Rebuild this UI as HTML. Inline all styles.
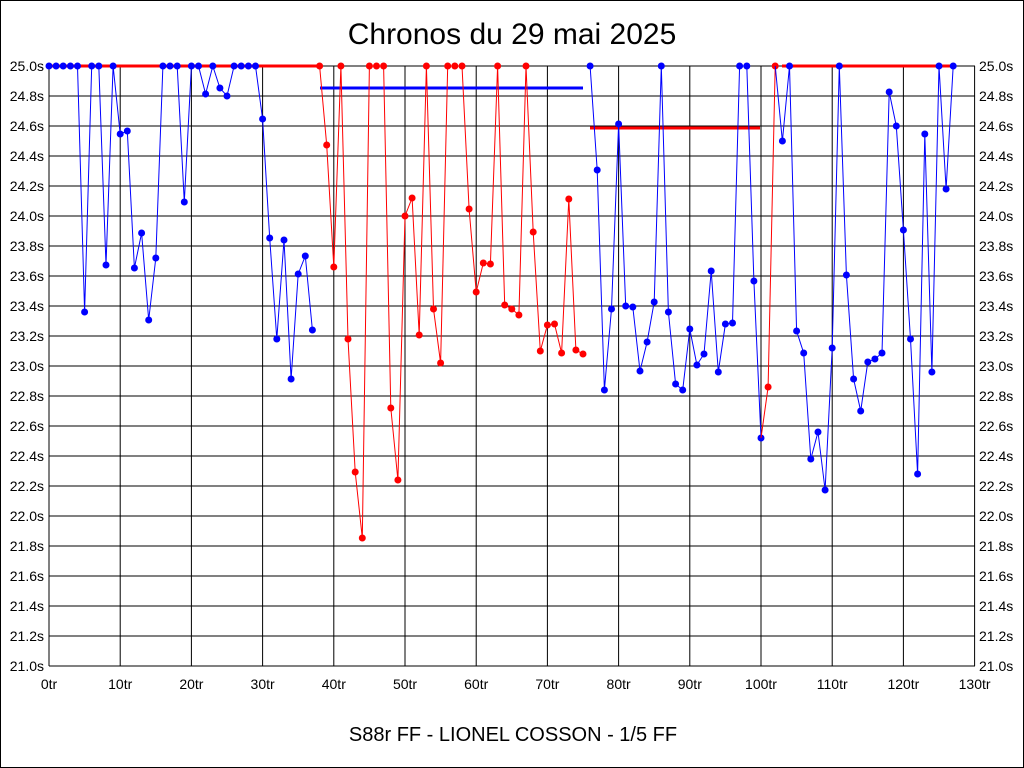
<!DOCTYPE html>
<html><head><meta charset="utf-8"><style>
html,body{margin:0;padding:0;background:#fff}
svg{display:block}
text{font-family:"Liberation Sans",Arial,sans-serif}
</style></head><body>
<svg id="s" width="1024" height="768" xmlns="http://www.w3.org/2000/svg">
<rect x="0.5" y="0.5" width="1023" height="767" fill="#fff" stroke="#000"/>
<text x="512" y="44" font-size="30" text-anchor="middle">Chronos du 29 mai 2025</text>
<text x="513" y="741" font-size="20" text-anchor="middle">S88r FF - LIONEL COSSON - 1/5 FF</text>
<g id="g"></g>
</svg>
<script>
var g=document.getElementById('g'),h='';
var X0=49,XS=7.12,Y0=66;
function X(i){return X0+XS*i;}
for(var k=0;k<=20;k++){var y=Y0+30*k;var v=(25-0.2*k).toFixed(1)+'s';
h+='<line x1="49" y1="'+y+'" x2="975" y2="'+y+'" stroke="#000" stroke-width="1"/>';
h+='<text x="44" y="'+(y+5)+'" font-size="14" text-anchor="end">'+v+'</text>';
h+='<text x="979" y="'+(y+5)+'" font-size="14">'+v+'</text>';}
for(var k=0;k<=13;k++){var x=X(k*10);
h+='<line x1="'+x+'" y1="66" x2="'+x+'" y2="666" stroke="#000" stroke-width="1"/>';
h+='<text x="'+x+'" y="689" font-size="14" text-anchor="middle">'+(k*10)+'tr</text>';}
var T=66;
var b1=[T,T,T,T,T,312,T,T,265,T,134,131,268,233,320,258,T,T,T,202,T,T,94,T,88,96,T,T,T,T,119,238,339,240,379,274,256,330];
var r1=[T,145,267,T,339,472,538,T,T,T,408,480,216,198,335,T,309,363,T,T,T,209,292,263,264,T,305,309,315,T,232,351,325,324,353,199,350,354];
var b2=[T,170,390,309,124,306,307,371,342,302,T,312,384,390,329,365,354,271,372,324,323,T,T,281,438];
var b3=[141,T,331,353,459,432,490,348,T,275,379,411,362,359,353,92,126,230,339,474,134,372,T,189,T];
h+='<line x1="49" y1="66" x2="318" y2="66" stroke="#f00" stroke-width="3"/>';
h+='<line x1="782" y1="66" x2="953" y2="66" stroke="#f00" stroke-width="3"/>';
h+='<line x1="320" y1="88" x2="583" y2="88" stroke="#00f" stroke-width="3"/>';
h+='<line x1="590" y1="128" x2="760" y2="128" stroke="#f00" stroke-width="3"/>';
function ser(arr,s,c){var p=[];for(var i=0;i<arr.length;i++)p.push(X(s+i).toFixed(1)+','+arr[i]);
h+='<polyline points="'+p.join(' ')+'" fill="none" stroke="'+c+'" stroke-width="1"/>';
for(var i=0;i<arr.length;i++)h+='<circle cx="'+X(s+i).toFixed(1)+'" cy="'+arr[i]+'" r="3.5" fill="'+c+'"/>';}
ser(b1,0,'#00f');ser(r1,38,'#f00');ser(b2,76,'#00f');
h+='<line x1="'+X(100)+'" y1="438" x2="'+X(101)+'" y2="387" stroke="#f00"/>';
ser([387,T],101,'#f00');
h+='<line x1="'+X(102)+'" y1="66" x2="'+X(103)+'" y2="141" stroke="#00f"/>';
ser(b3,103,'#00f');
g.innerHTML=h;
</script>
</body></html>
